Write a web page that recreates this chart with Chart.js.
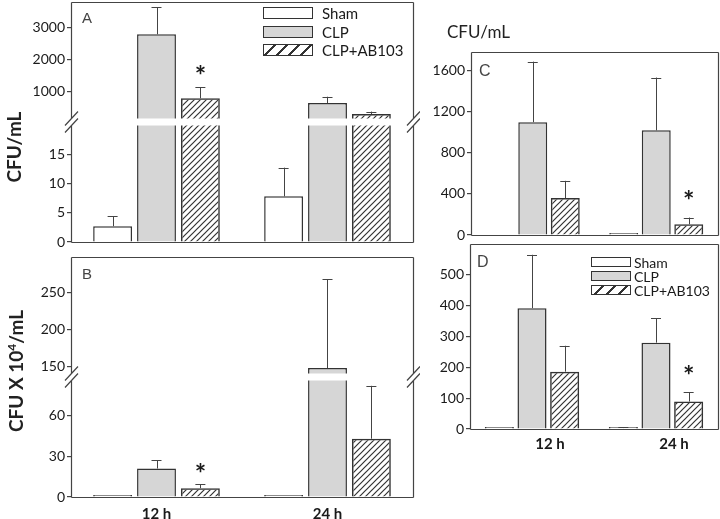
<!DOCTYPE html>
<html lang="en">
<head>
<meta charset="UTF-8" />
<title>CFU counts, sham / CLP / CLP+AB103</title>
<script src="https://cdn.jsdelivr.net/npm/chart.js"></script>
<style>
  body { margin: 0; background: #fff; font-family: Lato, sans-serif; color: #222; }
  #wrap { position: relative; width: 720px; height: 519px; overflow: hidden; background: #fff; }
  canvas { position: absolute; }
  .lbl { position: absolute; white-space: nowrap; line-height: 1; }
  .ytitle { font-weight: bold; font-size: 19px; transform-origin: 0 0; transform: rotate(-90deg) translate(-50%, -50%); }
  .ytitle sup { font-size: 0.62em; vertical-align: 0.55em; }
  .letter { font-family: 'Liberation Sans', Arial, sans-serif; color: #444; }
  .legend { position: absolute; color: #1a1a1a; }
  .legend .row { display: flex; align-items: center; }
  .legend .sw { border: 1.5px solid #333; box-sizing: border-box; }
</style>
</head>
<body>
<div id="wrap">
  <canvas id="chartA" width="420" height="250" style="left:0;top:0"></canvas>
  <canvas id="chartB" width="420" height="269" style="left:0;top:250px"></canvas>
  <canvas id="chartC" width="300" height="250" style="left:420px;top:0"></canvas>
  <canvas id="chartD" width="300" height="279" style="left:420px;top:240px"></canvas>

  <div class="lbl ytitle" style="left:12.5px;top:147px">CFU/mL</div>
  <div class="lbl ytitle" style="left:14.5px;top:371px">CFU X 10<sup>4</sup>/mL</div>
  <div class="lbl" style="left:447px;top:23px;font-size:17px">CFU/mL</div>

  <div class="lbl letter" style="left:82px;top:10px;font-size:15px">A</div>
  <div class="lbl letter" style="left:82px;top:266px;font-size:15px">B</div>
  <div class="lbl letter" style="left:479px;top:63px;font-size:16px">C</div>
  <div class="lbl letter" style="left:477px;top:254px;font-size:16px">D</div>

  <div class="legend" id="legA" style="left:263px;top:4px;font-size:15px"></div>
  <div class="legend" id="legD" style="left:591px;top:255px;font-size:14px"></div>
</div>

<script>
  const categories = ['12 h', '24 h'];
  const seriesNames = ['Sham', 'CLP', 'CLP+AB103'];

  // A: CFU/mL, broken y axis
  const aSham = [2.7, 7.8];
  const aShamErr = [1.7, 4.9];
  const aClp = [2800, 650];
  const aClpErr = [840, 200];
  const aAb = [800, 310];
  const aAbErr = [350, 75];
  const aStar = [true, false];
  const aTicksLow = [0, 5, 10, 15];
  const aTicksHigh = [1000, 2000, 3000];

  // B: CFU x 10^4/mL, broken y axis
  const bSham = [0.6, 0.6];
  const bShamErr = [0, 0];
  const bClp = [21, 148];
  const bClpErr = [6, 120];
  const bAb = [6.5, 43];
  const bAbErr = [3, 39];
  const bStar = [true, false];
  const bTicksLow = [0, 30, 60];
  const bTicksHigh = [150, 200, 250];

  // C: CFU/mL
  const cSham = [0, 4];
  const cShamErr = [0, 0];
  const cClp = [1100, 1020];
  const cClpErr = [590, 515];
  const cAb = [360, 105];
  const cAbErr = [168, 65];
  const cStar = [false, true];
  const cTicks = [0, 400, 800, 1200, 1600];

  // D
  const dSham = [1, 3];
  const dShamErr = [0, 2];
  const dClp = [392, 280];
  const dClpErr = [173, 80];
  const dAb = [186, 89];
  const dAbErr = [84, 31];
  const dStar = [false, true];
  const dTicks = [0, 100, 200, 300, 400, 500];

  Chart.defaults.font.family = 'Lato, sans-serif';
  Chart.defaults.color = '#1a1a1a';

  // diagonal hatch for CLP+AB103
  const hatch = (() => {
    const t = document.createElement('canvas');
    t.width = 6; t.height = 6;
    const g = t.getContext('2d');
    g.strokeStyle = '#333';
    g.lineWidth = 1.2;
    g.beginPath();
    g.moveTo(0, 6); g.lineTo(6, 0);
    g.moveTo(-3, 3); g.lineTo(3, -3);
    g.moveTo(3, 9); g.lineTo(9, 3);
    g.stroke();
    return g.createPattern(t, 'repeat');
  })();
  const fills = ['#ffffff', '#d6d6d6', hatch];
  const cssFills = ['#fff', '#d6d6d6', 'repeating-linear-gradient(135deg, #fff 0 7px, #333 7px 8.5px)'];

  // error bars, asterisks, white break band, frame and // marks
  const decor = {
    id: 'decor',
    afterDatasetsDraw(chart, args, opts) {
      const ctx = chart.ctx;
      const a = chart.chartArea;
      ctx.save();
      ctx.strokeStyle = '#444';
      ctx.fillStyle = '#1a1a1a';
      ctx.lineWidth = 1;
      chart.data.datasets.forEach((ds, di) => {
        const meta = chart.getDatasetMeta(di);
        const s = chart.scales[ds.yAxisID];
        ds.data.forEach((v, i) => {
          const val = ds.actual[i];
          if (v == null || val > s.max || val < s.min) return;
          const x = meta.data[i].x;
          const y0 = s.getPixelForValue(val);
          const y1 = s.getPixelForValue(val + ds.err[i]);
          if (ds.err[i] > 0) {
            ctx.beginPath();
            ctx.moveTo(Math.round(x) + 0.5, y0);
            ctx.lineTo(Math.round(x) + 0.5, y1);
            ctx.moveTo(x - 5, Math.round(y1) + 0.5);
            ctx.lineTo(x + 5, Math.round(y1) + 0.5);
            ctx.stroke();
          }
          if (ds.star && ds.star[i]) {
            ctx.font = 'bold 27px Lato, sans-serif';
            ctx.textAlign = 'center';
            ctx.textBaseline = 'middle';
            ctx.fillText('*', x, y1 - opts.starGap + 6);
          }
        });
      });

      const up = chart.scales.yU;
      const yb = up ? up.bottom : null;
      const h = 3.5;
      if (up) {
        ctx.fillStyle = '#fff';
        ctx.fillRect(a.left - 1, yb - h, a.right - a.left + 2, 2 * h);
      }
      ctx.strokeStyle = '#444';
      ctx.lineWidth = 1.2;
      const L = Math.round(a.left) + 0.5, R = Math.round(a.right) + 0.5;
      const T = Math.round(a.top) + 0.5, B = Math.round(a.bottom) + 0.5;
      ctx.beginPath();
      ctx.moveTo(L, T); ctx.lineTo(R, T);
      ctx.moveTo(L, B); ctx.lineTo(R, B);
      [L, R].forEach(x => {
        if (up) {
          ctx.moveTo(x, T); ctx.lineTo(x, yb - h);
          ctx.moveTo(x, yb + h); ctx.lineTo(x, B);
          [yb - h, yb + h].forEach(yc => {
            ctx.moveTo(x - 6.5, yc + 7);
            ctx.lineTo(x + 6.5, yc - 7);
          });
        } else {
          ctx.moveTo(x, T); ctx.lineTo(x, B);
        }
      });
      ctx.stroke();
      ctx.restore();
    }
  };

  function yAxis(min, max, ticks, width, stack) {
    return {
      position: 'left', min: min, max: max, stack: stack, stackWeight: 1,
      border: { display: false },
      grid: { drawOnChartArea: false, drawTicks: true, tickLength: 4, color: '#444', lineWidth: 1.2 },
      ticks: { padding: 2, autoSkip: false, color: '#1a1a1a', font: { size: 14 }, callback: v => String(v) },
      afterBuildTicks: s => { s.ticks = ticks.map(v => ({ value: v })); },
      afterFit: s => { s.width = width; s.paddingTop = 0; s.paddingBottom = 0; }
    };
  }

  function buildPanel(id, p) {
    const datasets = [];
    p.series.forEach((s, k) => {
      const base = {
        label: seriesNames[k], backgroundColor: fills[k], borderColor: '#333', borderWidth: 1.5,
        categoryPercentage: p.catPct, barPercentage: p.barPct, minBarLength: p.minBar || 0,
        actual: s.values, err: s.errs, star: s.star, stack: 's' + k
      };
      if (p.high) {
        datasets.push(Object.assign({}, base, { yAxisID: 'yL', data: s.values.map(v => Math.min(v, p.low.max)) }));
        datasets.push(Object.assign({}, base, { yAxisID: 'yU', base: p.high.min, data: s.values.map(v => v > p.low.max ? v : null) }));
      } else {
        datasets.push(Object.assign({}, base, { yAxisID: 'yL', data: s.values.map(v => v > 0 ? v : null) }));
      }
    });

    const scales = {
      x: {
        type: 'category', labels: categories, offset: true, display: p.showX,
        grid: { display: false, drawTicks: false }, border: { display: false },
        ticks: { display: p.showX, color: '#1a1a1a', font: { size: 15, weight: 'bold' }, padding: p.xPad || 0, labelOffset: p.labelOffset || 0, maxRotation: 0 },
        afterFit: s => { s.height = p.xHeight || 0; s.paddingLeft = 0; s.paddingRight = 0; }
      }
    };
    // in a stacked axis column the first scale defined goes to the bottom
    if (p.high) {
      scales.yL = yAxis(p.low.min, p.low.max, p.low.ticks, p.yWidth, 'v');
      scales.yU = yAxis(p.high.min, p.high.max, p.high.ticks, p.yWidth, 'v');
    } else {
      scales.yL = yAxis(p.low.min, p.low.max, p.low.ticks, p.yWidth);
    }

    return new Chart(document.getElementById(id), {
      type: 'bar',
      data: { labels: categories, datasets: datasets },
      options: {
        responsive: false, animation: false, events: [],
        layout: { padding: p.pad },
        scales: scales,
        plugins: { legend: { display: false }, tooltip: { enabled: false }, decor: { starGap: p.starGap } }
      },
      plugins: [decor]
    });
  }

  buildPanel('chartA', {
    series: [
      { values: aSham, errs: aShamErr },
      { values: aClp, errs: aClpErr },
      { values: aAb, errs: aAbErr, star: aStar }
    ],
    low: { min: 0, max: 20.5, ticks: aTicksLow },
    high: { min: 60, max: 3810, ticks: aTicksHigh },
    yWidth: 71, pad: { top: 2, right: 7, bottom: 8, left: 0 },
    catPct: 0.77, barPct: 0.886, showX: false, starGap: 17
  });

  buildPanel('chartB', {
    series: [
      { values: bSham, errs: bShamErr },
      { values: bClp, errs: bClpErr },
      { values: bAb, errs: bAbErr, star: bStar }
    ],
    low: { min: 0, max: 88.5, ticks: bTicksLow },
    high: { min: 136, max: 298, ticks: bTicksHigh },
    yWidth: 71, pad: { top: 7, right: 7, bottom: 0, left: 0 },
    catPct: 0.77, barPct: 0.886, showX: true, xHeight: 22, xPad: 8, starGap: 16, minBar: 2
  });

  buildPanel('chartC', {
    series: [
      { values: cSham, errs: cShamErr },
      { values: cClp, errs: cClpErr },
      { values: cAb, errs: cAbErr, star: cStar }
    ],
    low: { min: 0, max: 1784, ticks: cTicks },
    yWidth: 51, pad: { top: 52, right: 2, bottom: 15, left: 0 },
    catPct: 0.79, barPct: 0.89, showX: false, starGap: 22, minBar: 2
  });

  buildPanel('chartD', {
    series: [
      { values: dSham, errs: dShamErr },
      { values: dClp, errs: dClpErr },
      { values: dAb, errs: dAbErr, star: dStar }
    ],
    low: { min: 0, max: 600, ticks: dTicks },
    yWidth: 50, pad: { top: 4, right: 2, bottom: 65, left: 0 },
    catPct: 0.79, barPct: 0.89, showX: true, xHeight: 25, xPad: 6, labelOffset: 18, starGap: 22, minBar: 2
  });

  // HTML legends for panels A and D
  function buildLegend(id, boxW, boxH, rowH, gap) {
    const el = document.getElementById(id);
    seriesNames.forEach((name, k) => {
      const row = document.createElement('div');
      row.className = 'row';
      row.style.height = rowH + 'px';
      const sw = document.createElement('div');
      sw.className = 'sw';
      sw.style.width = boxW + 'px';
      sw.style.height = boxH + 'px';
      sw.style.background = cssFills[k];
      sw.style.marginRight = gap + 'px';
      const tx = document.createElement('span');
      tx.textContent = name;
      row.appendChild(sw);
      row.appendChild(tx);
      el.appendChild(row);
    });
  }
  buildLegend('legA', 50, 12, 18.5, 9);
  buildLegend('legD', 40, 10, 14, 3);
</script>
</body>
</html>
